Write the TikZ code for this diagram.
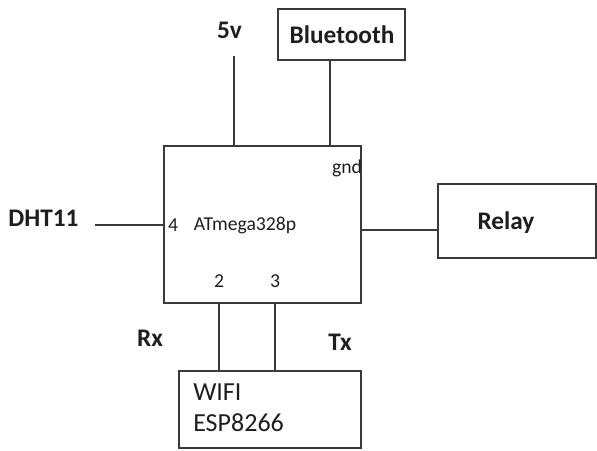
\documentclass[tikz,border=0pt]{standalone}
\usepackage{fontspec}
\setmainfont{Carlito}
\usetikzlibrary{positioning}
\definecolor{colorLine}{HTML}{3A3A3A}
\definecolor{colorText}{HTML}{1E1E1E}
\def\colorLine{colorLine}
\def\colorText{colorText}

\begin{document}
\begin{tikzpicture}[x=0.025cm, y=-0.025cm,
    box/.style = {draw=\colorLine, line width=0.9pt, fill=none, inner sep=0pt},
    boldlabel/.style = {font=\fontsize{18pt}{20pt}\selectfont\bfseries, text=\colorText, inner sep=0pt},
    pinlabel/.style = {font=\fontsize{14pt}{16pt}\selectfont, text=\colorText, inner sep=0pt},
    wifilabel/.style = {font=\fontsize{18.5pt}{20pt}\selectfont, text=\colorText, inner sep=0pt, anchor=west},
    wire/.style = {draw=\colorLine, line width=0.9pt}]

    \useasboundingbox (0,0) rectangle (597,450);

    % Boitier du microcontroleur
    \node[box, minimum width=4.925cm, minimum height=3.925cm] (mcu) at (262.5,224.5) {};
    \node[pinlabel] (chip) at (245,225) {ATmega328p};
    \node[pinlabel] (pin4) at (173,225) {4};
    \node[pinlabel] (pin2) at (219,281) {2};
    \node[pinlabel, right=45.5 of pin2] (pin3) {3};
    \node[pinlabel] (gnd) at (347,168) {gnd};

    % Modules autour
    \node[box, minimum width=3.175cm, minimum height=1.275cm] (bt) at (341.5,34.5) {};
    \node[boldlabel] (bttxt) at (342,35) {Bluetooth};
    \node[box, minimum width=3.95cm, minimum height=1.85cm] (relay) at (517,221) {};
    \node[boldlabel] (relaytxt) at (506,223) {Relay};
    \node[box, minimum width=4.55cm, minimum height=1.925cm] (wifi) at (270,409.5) {};
    \node[wifilabel] (wifitxt) at (193,392) {WIFI};
    \node[wifilabel] (esptxt) at (193,422.5) {ESP8266};

    % Etiquettes libres
    \node[boldlabel] (vcc) at (229.5,30) {5v};
    \node[boldlabel] (dht) at (43.5,218) {DHT11};
    \node[boldlabel] (rx) at (150,338) {Rx};
    \node[boldlabel] (tx) at (340,342) {Tx};

    \coordinate (vccend) at (234,56);
    \coordinate (dhtend) at (95,225);

    % Liaisons
    \draw[wire] (vccend) -- (vccend |- mcu.north);
    \draw[wire] ([xshift=-0.29cm]bt.south) -- ([xshift=-0.29cm]bt.south |- mcu.north);
    \draw[wire] (dhtend) -- (dhtend -| mcu.west);
    \draw[wire] (mcu.east |- 0,230) -- (relay.west |- 0,230);
    \draw[wire] (pin2 |- mcu.south) -- (pin2 |- wifi.north);
    \draw[wire] (pin3 |- mcu.south) -- (pin3 |- wifi.north);

\end{tikzpicture}
\end{document}
